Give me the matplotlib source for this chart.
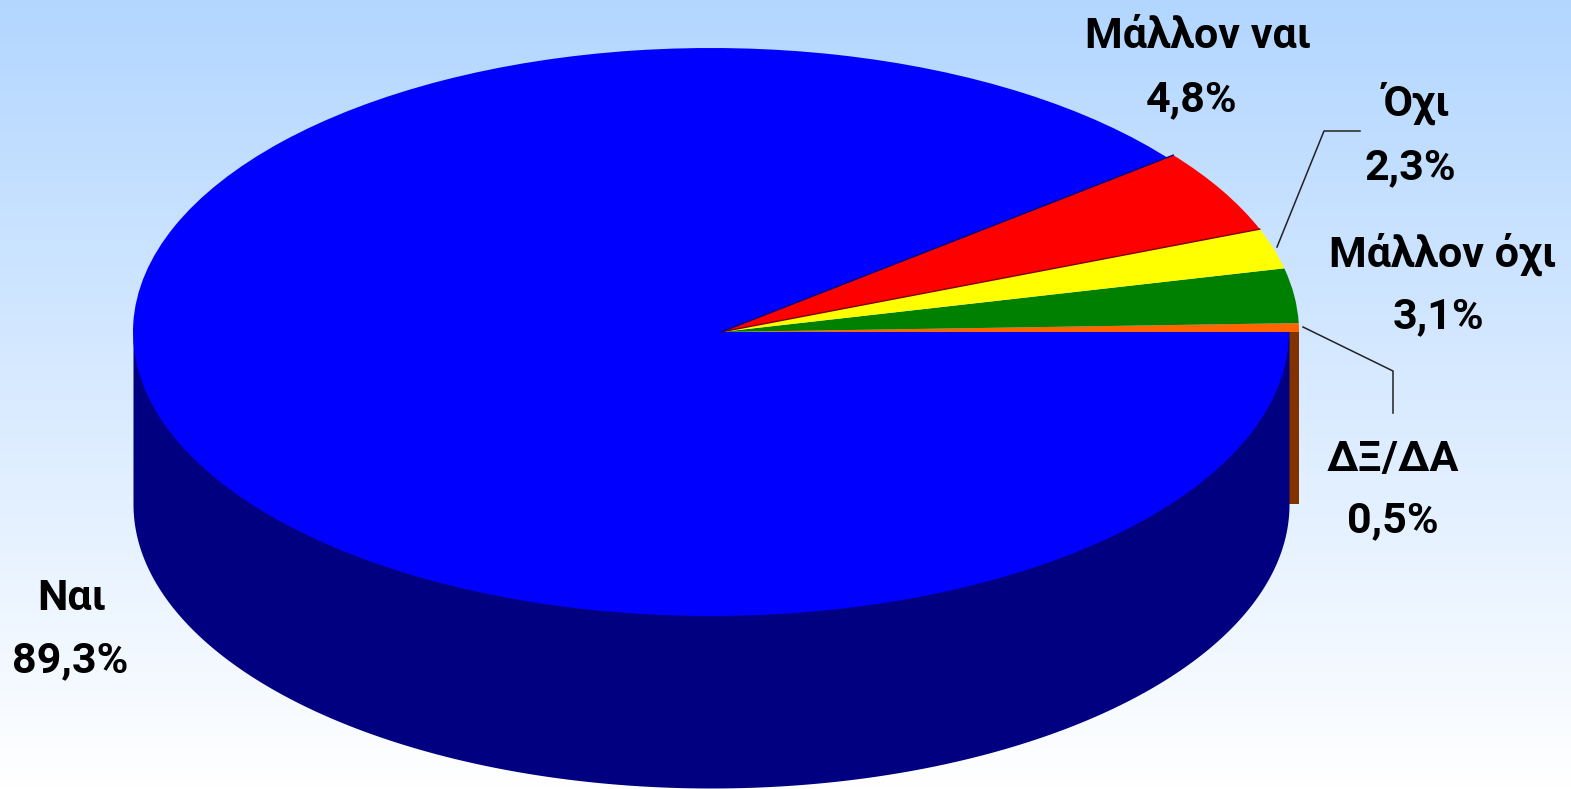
import numpy as np
import matplotlib
matplotlib.use('Agg')
import matplotlib.pyplot as plt
from matplotlib.patches import Wedge, Polygon

labels = ['ΔΞ/ΔΑ', 'Μάλλον όχι', 'Όχι', 'Μάλλον ναι', 'Ναι']
values = [0.5, 3.1, 2.3, 4.8, 89.3]
top_colors = ['#FF6600', '#008000', '#FFFF00', '#FF0000', '#0000FF']
pct_labels = ['0,5%', '3,1%', '2,3%', '4,8%', '89,3%']
label_x = [1393, 1443, 1417, 1198, 72]
label_base = [471, 267, 116, 48, 610]
pct_x = [1393, 1438, 1410, 1192, 70]
pct_base = [532, 328, 179, 111, 672]

W, H = 1571, 789
cx, cy = 721, 332
rx, ry = 578, 284
depth = 172
k = ry / rx

fig = plt.figure(figsize=(W / 100, H / 100), dpi=100)
ax = fig.add_axes([0, 0, 1, 1])
# y in the axes is "unsquashed", so a circle in data comes out as the pie ellipse
ax.set_xlim(0, W)
ax.set_ylim((cy - H) / k, cy / k)
ax.axis('off')

grad = np.linspace(0, 1, 256).reshape(-1, 1)
grad = np.dstack([0.70 + 0.30 * grad, 0.84 + 0.16 * grad, np.ones_like(grad)])
ax.imshow(grad, extent=[0, W, (cy - H) / k, cy / k], aspect='auto', zorder=0)

angles = np.cumsum([0] + [v * 3.6 for v in values])
d = depth / k

# cut face of the first slice, only its end shows past the big slice
ax.add_patch(Polygon([(cx, 0), (cx + rx, 0), (cx + rx, -d), (cx, -d)],
                     fc='#803300', ec='none', zorder=1))

# side wall of the big slice, filled up to the centre line so no seam shows
bx = cx - 10
t = np.radians(np.linspace(180, 360, 300))
xs = bx + rx * np.cos(t)
ys = rx * np.sin(t)
ax.fill_between(xs, np.zeros_like(xs), ys - d, color='#000080', lw=0, zorder=2)

# big slice starts a bit early, the red one covers the overlap
ax.add_patch(Wedge((bx, 0), rx, angles[4] - 1.5, angles[5], fc=top_colors[4], ec='none', zorder=3))
# patch over the sliver by the apex, since the big slice is shifted left
ax.add_patch(Wedge((cx, 0), rx * 0.9, angles[4], angles[5], fc=top_colors[4], ec='none', zorder=3))
for i in range(4):
    ax.add_patch(Wedge((cx, 0), rx, angles[i], angles[i + 1], fc=top_colors[i], ec='none', zorder=4))

# dark seams
for a, c in zip(angles[3:5], ['#800000', '#000080']):
    r = np.radians(a)
    ax.plot([cx, cx + rx * np.cos(r)], [0, rx * np.sin(r)], color=c, lw=1, zorder=5)


def py(p):
    return (cy - p) / k


# leader lines
ax.plot([1277, 1324, 1360], [py(247), py(131), py(131)], color='#222222', lw=1.1, zorder=6)
ax.plot([1303, 1393, 1393], [py(327), py(371), py(413)], color='#222222', lw=1.1, zorder=6)

for lab, pct, x1, y1, x2, y2 in zip(labels, pct_labels, label_x, label_base, pct_x, pct_base):
    ax.text(x1, py(y1), lab, ha='center', va='baseline', family='Roboto', weight='bold',
            fontsize=31, color='black', zorder=7)
    ax.text(x2, py(y2), pct, ha='center', va='baseline', family='Roboto', weight='bold',
            fontsize=31, color='black', zorder=7)

fig.savefig('out.png', dpi=100)
